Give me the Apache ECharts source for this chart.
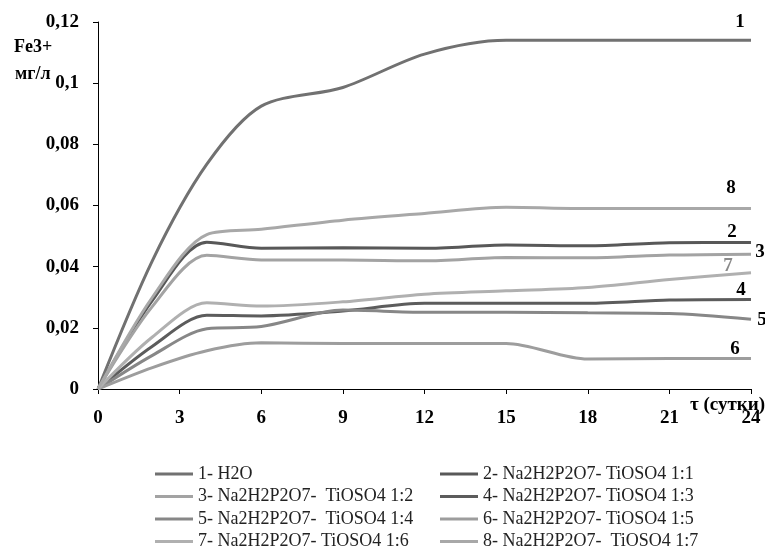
<!DOCTYPE html>
<html>
<head>
<meta charset="utf-8">
<script src="https://cdn.jsdelivr.net/npm/echarts@6/dist/echarts.min.js"></script>
<style>
  html, body { margin: 0; padding: 0; background: #fff; }
  #chart { width: 765px; height: 554px; }
</style>
</head>
<body>
<div id="chart"></div>
<script>
// дни наблюдения
const days = [0, 2, 4, 6, 9, 12, 15, 18, 21, 24]

// концентрация Fe3+, мг/л
const s1 = [0, 0.042, 0.0735, 0.0925, 0.0986, 0.1095, 0.114, 0.114, 0.114, 0.114]
const s2 = [0, 0.029, 0.048, 0.046, 0.0462, 0.046, 0.0471, 0.0468, 0.0478, 0.0479]
const s3 = [0, 0.027, 0.0437, 0.0422, 0.0422, 0.0419, 0.043, 0.0429, 0.0438, 0.0441]
const s4 = [0, 0.014, 0.0241, 0.0239, 0.0255, 0.028, 0.028, 0.028, 0.0291, 0.0293]
const s5 = [0, 0.011, 0.0197, 0.0204, 0.0258, 0.0251, 0.0251, 0.0249, 0.0247, 0.0228]
const s6 = [0, 0.007, 0.0125, 0.0151, 0.0149, 0.0149, 0.0149, 0.0098, 0.01, 0.01]
const s7 = [0, 0.017, 0.0282, 0.0271, 0.0285, 0.031, 0.0321, 0.0332, 0.0358, 0.038]
const s8 = [0, 0.030, 0.0505, 0.0522, 0.0552, 0.0574, 0.0594, 0.059, 0.059, 0.059]

const names = [
  '1- H2O',
  '2- Na2H2P2O7- TiOSO4 1:1',
  '3- Na2H2P2O7-  TiOSO4 1:2',
  '4- Na2H2P2O7- TiOSO4 1:3',
  '5- Na2H2P2O7-  TiOSO4 1:4',
  '6- Na2H2P2O7- TiOSO4 1:5',
  '7- Na2H2P2O7- TiOSO4 1:6',
  '8- Na2H2P2O7-  TiOSO4 1:7'
]
const curveNums = ['1', '2', '3', '4', '5', '6', '7', '8']
const yTickLabels = ['0', '0,02', '0,04', '0,06', '0,08', '0,1', '0,12']
const xTickLabels = ['0', '3', '6', '9', '12', '15', '18', '21', '24']

const allData = [s1, s2, s3, s4, s5, s6, s7, s8]
const colors = ['#717171', '#585858', '#a3a3a3', '#5c5c5c', '#878787', '#9d9d9d', '#b0b0b0', '#a8a8a8']
// смещения подписей номеров кривых от конца линии
const labelOffsets = [[-11, -18], [-19, -10], [9, -2], [-10, -9], [11, 1], [-16, -9], [-23, -7], [-20, -20]]

const serif = '"Liberation Serif", "Times New Roman", serif'

const chart = echarts.init(document.getElementById('chart'))

const series = allData.map((vals, i) => ({
  name: names[i],
  type: 'line',
  smooth: 0.3,
  symbol: 'none',
  data: days.map((d, k) => [d, vals[k]]),
  lineStyle: { width: 3, color: colors[i] },
  itemStyle: { color: colors[i] },
  endLabel: {
    show: true,
    formatter: curveNums[i],
    position: 'right',
    distance: 0,
    align: 'center',
    verticalAlign: 'middle',
    offset: labelOffsets[i],
    fontFamily: serif,
    fontWeight: 'bold',
    fontSize: 19,
    color: i === 6 ? '#8a8a8a' : '#000'
  }
}))

const legendText = { fontFamily: serif, fontSize: 18, color: '#222', lineHeight: 18 }

const legendBase = {
  orient: 'vertical',
  top: 465,
  padding: 0,
  height: 89,
  icon: 'rect',
  itemWidth: 38,
  itemHeight: 3,
  itemGap: 4.5,
  textStyle: legendText
}

const option = {
  animation: false,
  backgroundColor: '#fff',
  grid: { left: 98, right: 14, top: 22, bottom: 165, containLabel: false },
  xAxis: {
    type: 'value',
    min: 0,
    max: 24,
    interval: 3,
    axisLine: { lineStyle: { color: '#000', width: 1 } },
    axisTick: { show: true, length: 5, lineStyle: { color: '#000' } },
    splitLine: { show: false },
    axisLabel: {
      margin: 20,
      fontFamily: serif,
      fontWeight: 'bold',
      fontSize: 19,
      color: '#000',
      formatter: v => xTickLabels[Math.round(v / 3)]
    }
  },
  yAxis: {
    type: 'value',
    min: 0,
    max: 0.12,
    interval: 0.02,
    axisLine: { show: true, lineStyle: { color: '#000', width: 1 } },
    axisTick: { show: true, length: 5, lineStyle: { color: '#000' } },
    splitLine: { show: false },
    axisLabel: {
      margin: 19,
      fontFamily: serif,
      fontWeight: 'bold',
      fontSize: 19,
      color: '#000',
      formatter: v => yTickLabels[Math.round(v / 0.02)]
    }
  },
  legend: [
    Object.assign({}, legendBase, {
      data: [names[0], names[2], names[4], names[6]],
      left: 155
    }),
    Object.assign({}, legendBase, {
      data: [names[1], names[3], names[5], names[7]],
      left: 440
    })
  ],
  graphic: [
    {
      type: 'text',
      left: 14,
      top: 38,
      style: { text: 'Fe3+', font: 'bold 18px ' + serif, fill: '#000' }
    },
    {
      type: 'text',
      left: 15,
      top: 65,
      style: { text: 'мг/л', font: 'bold 18px ' + serif, fill: '#000' }
    },
    {
      type: 'text',
      right: 0,
      top: 396,
      style: { text: 'τ (сутки)', font: 'bold 19px ' + serif, fill: '#000' }
    }
  ],
  series: series
}

chart.setOption(option)
</script>
</body>
</html>
